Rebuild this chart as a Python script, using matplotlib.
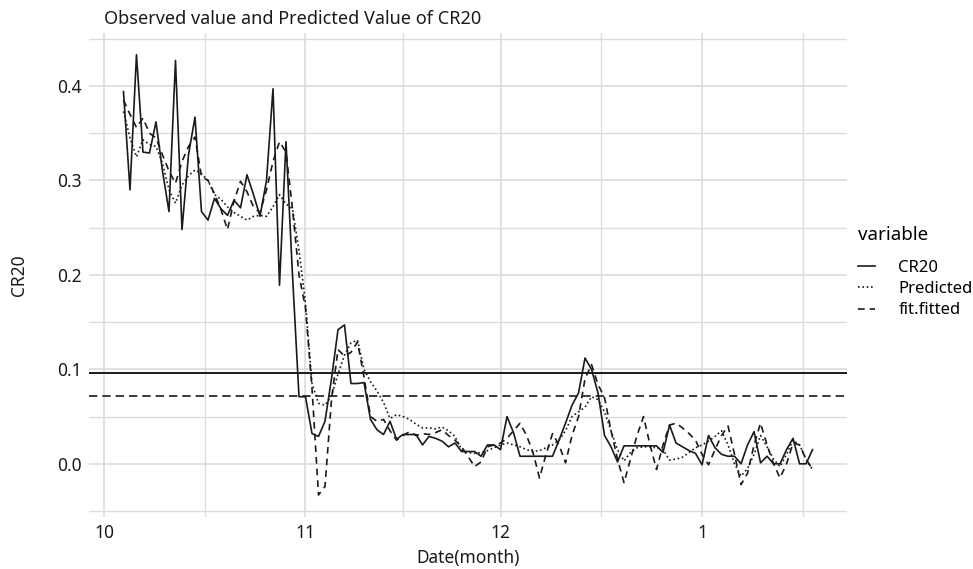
import numpy as np
import pandas as pd
import matplotlib
matplotlib.use("Agg")
import matplotlib.pyplot as plt
from matplotlib.lines import Line2D

# Data (daily)
start_date = "2016-10-04"

cr20 = [0.394, 0.290, 0.433, 0.330, 0.329, 0.362, 0.310, 0.267, 0.427, 0.248,
        0.327, 0.367, 0.267, 0.258, 0.281, 0.270, 0.263, 0.279, 0.271, 0.306,
        0.285, 0.262, 0.300, 0.397, 0.189, 0.341, 0.200, 0.071, 0.071, 0.032,
        0.029, 0.045, 0.090, 0.142, 0.147, 0.085, 0.085, 0.086, 0.047, 0.036,
        0.031, 0.045, 0.026, 0.031, 0.031, 0.031, 0.020, 0.029, 0.027, 0.024,
        0.018, 0.022, 0.013, 0.013, 0.013, 0.008, 0.020, 0.020, 0.015, 0.050,
        0.033, 0.008, 0.008, 0.008, 0.008, 0.008, 0.008, 0.025, 0.043, 0.062,
        0.075, 0.112, 0.100, 0.075, 0.030, 0.018, 0.002, 0.019, 0.019, 0.019,
        0.019, 0.019, 0.019, 0.012, 0.041, 0.022, 0.018, 0.014, 0.011, -0.001,
        0.030, 0.017, 0.010, 0.008, 0.008, 0.000, 0.020, 0.034, 0.001, 0.008,
        0.000, 0.000, 0.015, 0.027, 0.000, 0.000, 0.015]

predicted = [0.373, 0.345, 0.325, 0.343, 0.338, 0.336, 0.318, 0.290, 0.276, 0.295,
             0.305, 0.311, 0.307, 0.300, 0.285, 0.280, 0.272, 0.266, 0.262, 0.258,
             0.262, 0.263, 0.262, 0.272, 0.285, 0.275, 0.270, 0.226, 0.170, 0.085,
             0.064, 0.062, 0.072, 0.095, 0.115, 0.128, 0.131, 0.100, 0.087, 0.077,
             0.065, 0.048, 0.052, 0.050, 0.047, 0.042, 0.038, 0.038, 0.037, 0.039,
             0.035, 0.029, 0.015, 0.012, 0.011, 0.012, 0.014, 0.017, 0.020, 0.022,
             0.020, 0.018, 0.015, 0.013, 0.014, 0.017, 0.020, 0.025, 0.035, 0.050,
             0.055, 0.060, 0.071, 0.068, 0.055, 0.035, 0.015, 0.003, 0.012, 0.017,
             0.018, 0.018, 0.017, 0.015, 0.004, 0.005, 0.007, 0.012, 0.017, 0.020,
             0.024, 0.029, 0.035, 0.020, 0.000, -0.013, -0.005, 0.010, 0.030, 0.018,
             0.005, -0.003, 0.010, 0.025, 0.020, 0.005, -0.006]

fitted = [0.385, 0.370, 0.356, 0.366, 0.350, 0.345, 0.327, 0.310, 0.297, 0.320,
          0.336, 0.346, 0.304, 0.300, 0.286, 0.269, 0.248, 0.278, 0.299, 0.288,
          0.272, 0.266, 0.290, 0.320, 0.341, 0.330, 0.270, 0.200, 0.165, 0.080,
          -0.033, -0.024, 0.068, 0.121, 0.114, 0.118, 0.129, 0.092, 0.050, 0.045,
          0.047, 0.035, 0.025, 0.030, 0.034, 0.030, 0.032, 0.031, 0.033, 0.036,
          0.030, 0.025, 0.018, 0.008, -0.003, 0.002, 0.018, 0.020, 0.022, 0.027,
          0.035, 0.043, 0.030, 0.012, -0.015, 0.010, 0.032, 0.020, 0.001, 0.030,
          0.050, 0.090, 0.105, 0.084, 0.070, 0.035, 0.005, -0.020, 0.005, 0.030,
          0.050, 0.020, -0.006, 0.020, 0.041, 0.043, 0.038, 0.032, 0.025, 0.010,
          -0.001, 0.015, 0.030, 0.040, 0.010, -0.022, -0.010, 0.020, 0.043, 0.020,
          0.000, -0.015, 0.000, 0.022, 0.020, 0.005, -0.006]

hline_solid = 0.0966
hline_dashed = 0.0723

series_names = ["CR20", "Predicted", "fit.fitted"]

dates = pd.date_range(start_date, periods=len(cr20), freq="D")

# Figure
plt.rcParams["font.family"] = ["Noto Sans", "DejaVu Sans"]
fig = plt.figure(figsize=(9.73, 5.69), dpi=100)
ax = fig.add_axes([0.0915, 0.0914, 0.779, 0.851])

ink = "#1a1a1a"
dotted = (0, (1, 1.6))
dashed = (0, (4, 3))
ax.plot(dates, cr20, color=ink, lw=1.2, ls="-")
ax.plot(dates, predicted, color=ink, lw=1.2, ls=dotted)
ax.plot(dates, fitted, color=ink, lw=1.2, ls=dashed)
ax.axhline(hline_solid, color=ink, lw=1.4, ls="-")
ax.axhline(hline_dashed, color=ink, lw=1.2, ls=(0, (5, 3)))
ax.margins(x=0.05, y=0.05)

# x axis: month starts as major, midpoints as minor
x0, x1 = ax.get_xlim()
months = pd.date_range("2016-10-01", "2017-02-01", freq="MS")
ax.set_xticks(months)
ax.set_xticklabels([str(m.month) for m in months])
mids = [months[i] + (months[i + 1] - months[i]) / 2 for i in range(len(months) - 1)]
ax.set_xticks(mids, minor=True)
ax.set_xlim(x0, x1)

ax.set_yticks([0.0, 0.1, 0.2, 0.3, 0.4])
ax.set_yticks(np.arange(-0.05, 0.46, 0.1), minor=True)
ax.yaxis.set_major_formatter(matplotlib.ticker.FormatStrFormatter("%.1f"))

ax.grid(True, which="major", color="#dcdcdc", lw=1.2)
ax.grid(True, which="minor", color="#dcdcdc", lw=1.0)
ax.set_axisbelow(True)
for s in ax.spines.values():
    s.set_visible(False)
ax.tick_params(which="both", length=0, labelsize=12.5, colors=ink, pad=5)

ax.set_xlabel("Date(month)", fontsize=12.5, color=ink, labelpad=5)
ax.set_ylabel("CR20", fontsize=12.5, color=ink, labelpad=21)
ax.set_title("Observed value and Predicted Value of CR20", loc="left",
             fontsize=13, color=ink, pad=6, x=0.02)

# Legend
handles = [Line2D([], [], color=ink, lw=1.2, ls=st)
           for st in ["-", dotted, dashed]]
leg = ax.legend(handles, series_names, title="variable", loc="center left",
                bbox_to_anchor=(0.995, 0.505), frameon=False, fontsize=12,
                title_fontsize=13.5, handlelength=1.0, labelspacing=0.32,
                handletextpad=1.4, borderpad=0.4)
leg._legend_box.align = "left"
leg._legend_box.sep = 11

fig.savefig("out.png", dpi=100)
